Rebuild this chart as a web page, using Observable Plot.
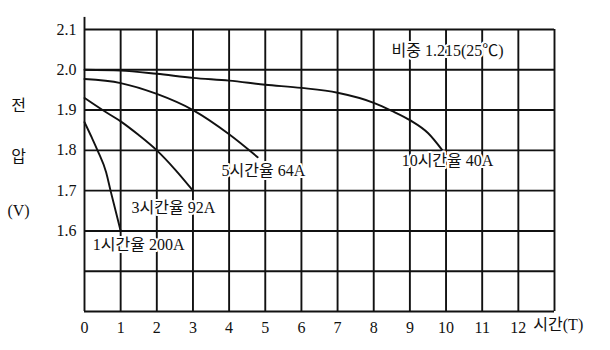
<!DOCTYPE html>
<html>
<head>
<meta charset="utf-8">
<script src="https://cdn.jsdelivr.net/npm/d3@7"></script>
<script src="https://cdn.jsdelivr.net/npm/@observablehq/plot@0.6"></script>
<style>
  html, body { margin: 0; padding: 0; background: #fff; }
  #chart svg { display: block; }
</style>
</head>
<body>
<div id="chart"></div>
<script>
// Grid and tick data
const gridHours = [0,1,2,3,4,5,6,7,8,9,10,11,12,13];
const gridVolts = [1.4,1.5,1.6,1.7,1.8,1.9,2.0,2.1];
const xTickLabels = [0,1,2,3,4,5,6,7,8,9,10,11,12];
const yTickLabels = [1.6,1.7,1.8,1.9,2.0,2.1];

// Discharge curves (hours, volts)
const h10Hours = [0,1,2,3,4,5,6,7,8,8.5,9,9.5,9.9];
const h10Volts = [2.0,1.998,1.99,1.98,1.973,1.963,1.955,1.943,1.918,1.898,1.875,1.843,1.80];
const h5Hours = [0,1,2,3,4,4.79];
const h5Volts = [1.977,1.967,1.94,1.90,1.84,1.783];
const h3Hours = [0,0.5,1,1.5,2,2.5,3];
const h3Volts = [1.93,1.90,1.872,1.838,1.80,1.753,1.70];
const h1Hours = [0,0.2,0.36,0.6,0.72,0.86,1.0];
const h1Volts = [1.87,1.832,1.80,1.745,1.70,1.65,1.60];

// Annotations
const curveLabels = ["10시간율 40A","5시간율 64A","3시간율 92A","1시간율 200A"];
const curveLabelHours = [10.04,4.95,2.46,1.5];
const curveLabelVolts = [1.775,1.75,1.658,1.565];
const gravityLabel = "비중 1.215(25℃)";
const gravityHour = 10.04;
const gravityVolt = 2.048;
const yTitleParts = ["전","압","(V)"];
const yTitleVolts = [1.91,1.785,1.65];
const xUnitLabel = "시간(T)";

const toPts = (xs, ys) => xs.map((x, i) => ({x, y: ys[i]}));
const series = [
  toPts(h10Hours, h10Volts),
  toPts(h5Hours, h5Volts),
  toPts(h3Hours, h3Volts),
  toPts(h1Hours, h1Volts)
];
const labels = curveLabels.map((t, i) => ({t, x: curveLabelHours[i], y: curveLabelVolts[i]}));
const yTitle = yTitleParts.map((t, i) => ({t, y: yTitleVolts[i]}));

const FONT = "'Liberation Serif', 'Noto Sans CJK KR', serif";

const chart = Plot.plot({
  width: 610,
  height: 350,
  marginLeft: 84,
  marginRight: 56,
  marginTop: 29,
  marginBottom: 39,
  style: {fontFamily: FONT, fontSize: "16px", color: "#111", background: "#fff"},
  x: {domain: [0, 13]},
  y: {domain: [1.4, 2.1]},
  marks: [
    Plot.ruleX(gridHours, {stroke: "#111", strokeWidth: 1.9}),
    Plot.ruleY(gridVolts, {stroke: "#111", strokeWidth: 1.9}),
    Plot.ruleX([0], {y1: 2.1, y2: 2.13, stroke: "#111", strokeWidth: 1.9}),
    ...series.map(s => Plot.line(s, {x: "x", y: "y", curve: "monotone-x", stroke: "#111", strokeWidth: 1.9})),
    Plot.text(labels, {x: "x", y: "y", text: "t", fill: "#111", fontSize: 16,
      stroke: "#fff", strokeWidth: 4, paintOrder: "stroke"}),
    Plot.text([gravityLabel], {x: gravityHour, y: gravityVolt, text: d => d, fill: "#111", fontSize: 16,
      stroke: "#fff", strokeWidth: 4, paintOrder: "stroke"}),
    Plot.text(yTitle, {y: "y", text: "t", frameAnchor: "left", dx: -66, fill: "#111", fontSize: 16, textAnchor: "middle"}),
    Plot.text([xUnitLabel], {x: 12, frameAnchor: "bottom", dx: 15, dy: 18, text: d => d, textAnchor: "start", fill: "#111", fontSize: 16}),
    Plot.axisX(xTickLabels, {tickSize: 0, tickPadding: 10, fontSize: 16, label: null, tickFormat: d => String(d)}),
    Plot.axisY(yTickLabels, {tickSize: 0, tickPadding: 8, fontSize: 16, label: null, tickFormat: d => d.toFixed(1)})
  ]
});
document.getElementById("chart").appendChild(chart);
</script>
</body>
</html>
